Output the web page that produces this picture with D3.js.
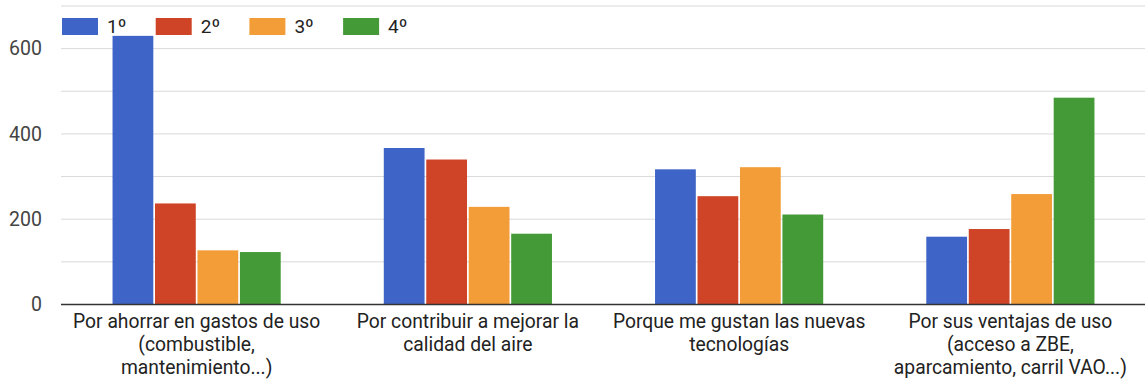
<!DOCTYPE html>
<html>
<head>
<meta charset="utf-8">
<script src="https://cdn.jsdelivr.net/npm/d3@7"></script>
<style>
  html, body { margin: 0; padding: 0; background: #fff; }
  svg { display: block; font-family: Roboto, Arial, sans-serif; }
</style>
</head>
<body>
<svg id="chart" width="1145" height="383"></svg>
<script>
// Reasons for choosing the vehicle, ranked 1º to 4º
const categories = [
  ["Por ahorrar en gastos de uso", "(combustible,", "mantenimiento...)"],
  ["Por contribuir a mejorar la", "calidad del aire"],
  ["Porque me gustan las nuevas", "tecnologías"],
  ["Por sus ventajas de uso", "(acceso a ZBE,", "aparcamiento, carril VAO...)"]
];
const seriesNames = ["1º", "2º", "3º", "4º"];
const serie1 = [630, 367, 317, 159];
const serie2 = [237, 340, 254, 177];
const serie3 = [127, 229, 322, 259];
const serie4 = [123, 166, 211, 485];
const yTicks = [0, 200, 400, 600];
const gridValues = [100, 200, 300, 400, 500, 600, 700];
const colors = ["#3f64c7", "#cf4427", "#f29d38", "#449a36"];

const series = [serie1, serie2, serie3, serie4];
const catKeys = categories.map(c => c.join(" "));

const svg = d3.select("#chart");
const plotLeft = 61, plotRight = 1146, plotTop = 6, plotBottom = 304.5;

const x0 = d3.scaleBand().domain(catKeys).range([plotLeft, plotRight])
  .paddingInner(0.38).paddingOuter(0.19);
const x1 = d3.scaleBand().domain(seriesNames).range([0, x0.bandwidth()])
  .paddingInner(0.04);
const y = d3.scaleLinear().domain([0, 700]).range([plotBottom, plotTop]);

// horizontal gridlines
svg.append("g").selectAll("line").data(gridValues).join("line")
  .attr("x1", plotLeft).attr("x2", plotRight)
  .attr("y1", d => y(d)).attr("y2", d => y(d))
  .attr("stroke", "#d9d9d9").attr("stroke-width", 1);

// y axis labels
const yAxis = d3.axisLeft(y).tickValues(yTicks).tickSize(0).tickPadding(19);
svg.append("g").attr("transform", `translate(${plotLeft},0)`).call(yAxis)
  .call(g => g.select(".domain").remove())
  .call(g => g.selectAll("text").attr("font-size", 19.5).attr("fill", "#444")
    .attr("font-family", "Roboto, Arial, sans-serif"));

// bars
const groups = svg.append("g").selectAll("g").data(catKeys).join("g")
  .attr("transform", d => `translate(${x0(d)},0)`);
groups.selectAll("rect")
  .data((d, i) => seriesNames.map((s, j) => ({ s, v: series[j][i], c: colors[j] })))
  .join("rect")
  .attr("x", d => x1(d.s))
  .attr("width", x1.bandwidth())
  .attr("y", d => y(d.v))
  .attr("height", d => y(0) - y(d.v))
  .attr("fill", d => d.c);

// baseline
svg.append("line").attr("x1", plotLeft).attr("x2", plotRight)
  .attr("y1", y(0)).attr("y2", y(0))
  .attr("stroke", "#333").attr("stroke-width", 1.6);

// category labels
const labels = svg.append("g").selectAll("text").data(categories).join("text")
  .attr("x", (d, i) => x0(catKeys[i]) + x0.bandwidth() / 2)
  .attr("y", 328)
  .attr("text-anchor", "middle")
  .attr("font-size", 19.3)
  .attr("fill", "#222");
labels.selectAll("tspan").data(d => d).join("tspan")
  .attr("x", function () { return this.parentNode.getAttribute("x"); })
  .attr("dy", (d, i) => i === 0 ? 0 : 23)
  .text(d => d);

// legend
const legend = svg.append("g").selectAll("g").data(seriesNames).join("g")
  .attr("transform", (d, i) => `translate(${62 + i * 93.7},18)`);
legend.append("rect").attr("width", 36).attr("height", 17)
  .attr("fill", (d, i) => colors[i]);
legend.append("text").attr("x", 45).attr("y", 15)
  .attr("font-size", 19).attr("fill", "#222").text(d => d);
</script>
</body>
</html>
